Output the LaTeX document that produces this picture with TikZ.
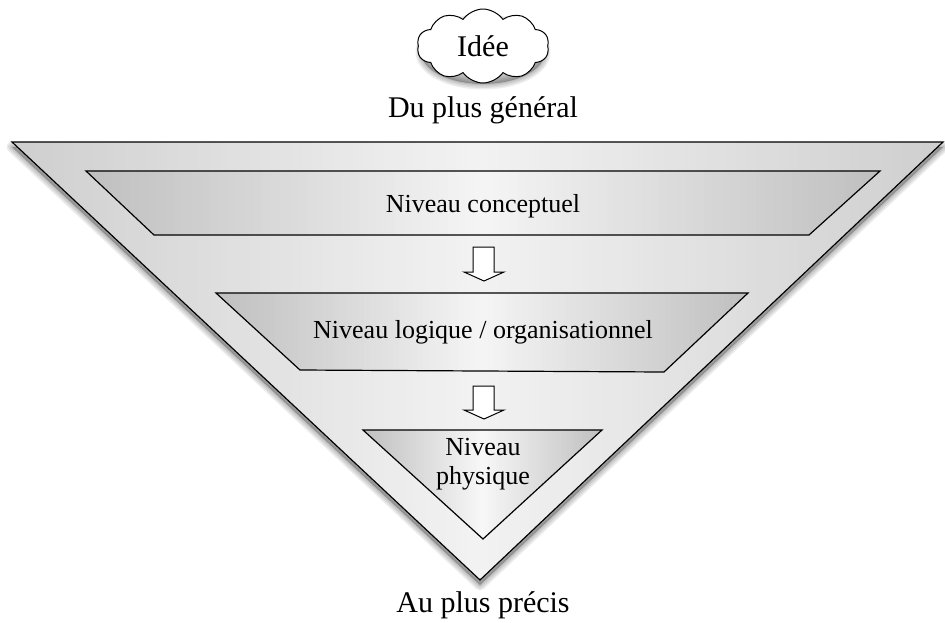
\documentclass[tikz,border=0pt]{standalone}
\usepackage{fontspec}
\setmainfont{Liberation Serif}
\usetikzlibrary{shapes.symbols}

% soft shadow under a closed path
\newcommand{\softshadow}[2]{%
  \begin{scope}[yshift=-#2pt]
    \foreach \w in {11,8,5,2}
      \draw[black, opacity=0.07, fill opacity=0.07, line width=\w pt, line join=round, fill=black] #1;
  \end{scope}}
% horizontal gradient: dark at both sides, light in the middle
\newcommand{\hgrad}[5]{%
  \begin{scope}
    \clip #1;
    \foreach \k in {0,...,89}{
      \pgfmathsetmacro\t{abs(2*(\k+0.5)/90-1)}
      \pgfmathsetmacro\g{#5+(#4-#5)*\t}
      \pgfmathsetmacro\xa{#2+(#3-#2)/90*\k}
      \pgfmathsetmacro\xb{\xa+(#3-#2)/90+0.8}
      \fill[black!\g] (\xa,0) rectangle (\xb,622);
    }
  \end{scope}}

\tikzset{
  big/.style={font=\fontsize{30}{34}\selectfont},
  level/.style={font=\fontsize{26}{30}\selectfont, align=center},
  outline/.style={draw=black, line width=1.2pt, line join=miter},
  downarrow/.style={draw=black, line width=1pt, fill=white}
}

\begin{document}
\begin{tikzpicture}[x=1pt,y=-1pt]
\useasboundingbox (0,0) rectangle (945,622);
% idea and top label
\softshadow{(483,49) ellipse (62 and 32)}{3}
\node[cloud, cloud puffs=10, cloud puff arc=110, aspect=1.8, minimum width=132pt, minimum height=74pt,
  draw, line width=1pt, fill=white, big] (idee) at (483,46) {Idée};
\node[big] (general) at (483,110) {Du plus général};
% funnel
\softshadow{(12,142) -- (943,142) -- (480,580) -- cycle}{5}
\hgrad{(12,142) -- (943,142) -- (480,580) -- cycle}{12}{943}{19}{5}
\draw[outline] (12,142) -- (943,142) -- (480,580) -- cycle;
\hgrad{(86,171) -- (880,171) -- (809,235) -- (154,235) -- cycle}{86}{880}{25}{4}
\draw[outline] (86,171) -- (880,171) -- (809,235) -- (154,235) -- cycle;
\node[level] (concept) at (483,206) {Niveau conceptuel};
\draw[downarrow] (473,247) -- (494,247) -- (494,272) -- (504,272) -- (484,281) -- (464,272) -- (473,272) -- cycle;
\hgrad{(216,293) -- (748,293) -- (664,372) -- (300,370) -- cycle}{216}{748}{25}{4}
\draw[outline] (216,293) -- (748,293) -- (664,372) -- (300,370) -- cycle;
\node[level] (logique) at (483,332) {Niveau logique / organisationnel};
\draw[downarrow] (473,386) -- (494,386) -- (494,410) -- (504,410) -- (484,419) -- (464,410) -- (473,410) -- cycle;
\hgrad{(363,430) -- (602,430) -- (483,539) -- cycle}{363}{602}{25}{3}
\draw[outline] (363,430) -- (602,430) -- (483,539) -- cycle;
\node[level, inner sep=0pt] (physique) at (483,464) {Niveau\\[-1pt]physique};
% bottom label
\node[big] (precis) at (483,605) {Au plus précis};
\end{tikzpicture}
\end{document}
